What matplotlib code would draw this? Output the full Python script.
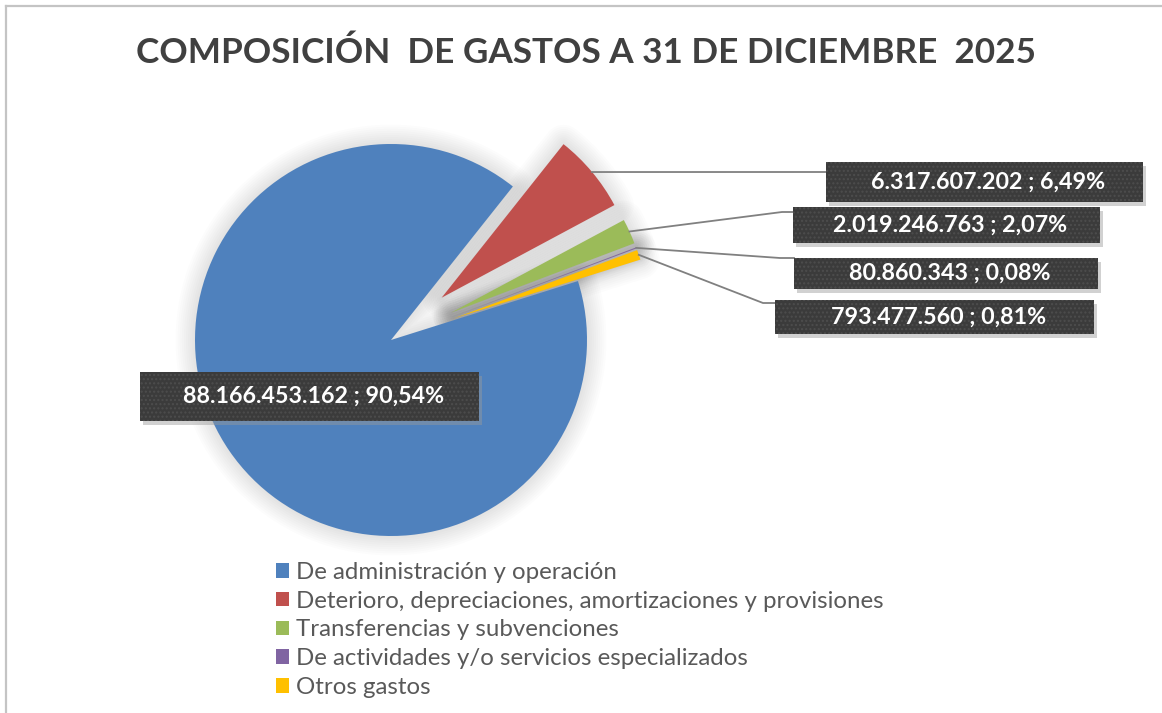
import matplotlib
matplotlib.use("Agg")
import matplotlib.pyplot as plt
import matplotlib.patheffects as pe
from matplotlib.patches import Rectangle
from matplotlib.lines import Line2D
import numpy as np

plt.rcParams['font.family'] = ['Lato', 'DejaVu Sans']

# ---------------- data ----------------
title = "COMPOSICIÓN  DE GASTOS A 31 DE DICIEMBRE  2025"
categories = [
    "De administración y operación",
    "Deterioro, depreciaciones, amortizaciones y provisiones",
    "Transferencias y subvenciones",
    "De actividades y/o servicios especializados",
    "Otros gastos",
]
values = [88166453162, 6317607202, 2019246763, 80860343, 793477560]
colors = ['#4F81BD', '#C0504D', '#9BBB59', '#8064A2', '#FFC000']

total = sum(values)


def fmt_num(v):
    return f"{v:,}".replace(",", ".")


def fmt_pct(v):
    return f"{100 * v / total:.2f}%".replace(".", ",")


labels = [f"{fmt_num(v)} ; {fmt_pct(v)}" for v in values]

# ---------------- layout (pixels, y measured from top) ----------------
W, H = 1162, 713
fig = plt.figure(figsize=(W / 100, H / 100), dpi=100)
ax = fig.add_axes([0, 0, 1, 1])


def Y(y):
    return H - y


center = (391, Y(340))
radius = 196
explode = [0, 66, 66, 66, 66]
startangle = 17.5

# soft glow behind the pie
glow = ax.pie(values, center=center, radius=radius, explode=explode,
              startangle=startangle, counterclock=False,
              colors=['none'] * len(values), wedgeprops=dict(linewidth=0))[0]
glow_fx = [pe.Stroke(linewidth=lw, foreground='black', alpha=0.012,
                     joinstyle='round', capstyle='round')
           for lw in range(28, 0, -3)]
for g in glow:
    g.set_path_effects(glow_fx)
    g.set_zorder(1)

wedges = ax.pie(values, center=center, radius=radius, explode=explode,
                startangle=startangle, counterclock=False,
                colors=colors, wedgeprops=dict(linewidth=0))[0]
for w in wedges:
    w.set_zorder(2)

ax.set_xlim(0, W)
ax.set_ylim(0, H)
ax.set_aspect('equal')
ax.axis('off')

renderer = fig.canvas.get_renderer()


def fit_size(txt, target_px, base=20, **kw):
    t = fig.text(0, 0, txt, fontsize=base, **kw)
    w = t.get_window_extent(renderer).width
    t.remove()
    return base * target_px / w


# title
ts = fit_size(title, 898, fontweight='bold')
ax.text(586, Y(53), title, ha='center', va='center', fontsize=ts,
        fontweight='bold', color='#404040', zorder=5)

# data label boxes: (x0, y0, x1, y1) in px
boxes = [
    (140, 372, 479, 421),
    (826, 162, 1143, 202),
    (793, 207, 1100, 243),
    (794, 258, 1098, 289),
    (775, 300, 1094, 334),
]
# leader-line bend points (px) for each slice, None for no leader line
bends = [
    None,
    [(826, 172)],
    [(782, 212), (793, 212)],
    [(780, 258), (794, 258)],
    [(763, 303), (775, 303)],
]

ls = fit_size(labels[1], 234, fontweight='bold')
for i, (lab, (x0, y0, x1, y1)) in enumerate(zip(labels, boxes)):
    # shadow
    ax.add_patch(Rectangle((x0 + 3, Y(y1) - 4), x1 - x0, y1 - y0,
                           facecolor='#9a9a9a', alpha=0.45, linewidth=0, zorder=6))
    ax.add_patch(Rectangle((x0, Y(y1)), x1 - x0, y1 - y0,
                           facecolor='#3b3b3b', edgecolor='#4d4d4d', hatch='....',
                           linewidth=0, zorder=7))
    ax.text((x0 + x1) / 2 + 4, Y((y0 + y1) / 2), lab, ha='center', va='center',
            color='white', fontsize=ls, fontweight='bold', zorder=8)
    if bends[i] is not None:
        w = wedges[i]
        th = np.deg2rad((w.theta1 + w.theta2) / 2)
        sx = w.center[0] + w.r * np.cos(th)
        sy = w.center[1] + w.r * np.sin(th)
        xs = [sx] + [p[0] for p in bends[i]]
        ys = [sy] + [Y(p[1]) for p in bends[i]]
        ax.add_line(Line2D(xs, ys, color='#808080', linewidth=1.3, zorder=5))

# legend
lfs = fit_size(categories[1], 589)
leg = ax.legend(wedges, categories, loc='upper left',
                bbox_to_anchor=(276 / W, 1 - 562 / H), bbox_transform=fig.transFigure,
                frameon=False, fontsize=lfs, handlelength=0.55, handleheight=0.55,
                handletextpad=0.3, labelspacing=0.32, borderpad=0, borderaxespad=0,
                labelcolor='#595959')

# chart frame (top and left edges visible)
ax.add_line(Line2D([6, W], [Y(6), Y(6)], color='#c4c4c4', linewidth=1.6, zorder=9))
ax.add_line(Line2D([6, 6], [Y(6), 0], color='#c4c4c4', linewidth=1.6, zorder=9))

fig.savefig("out.png", dpi=100, facecolor='white')
